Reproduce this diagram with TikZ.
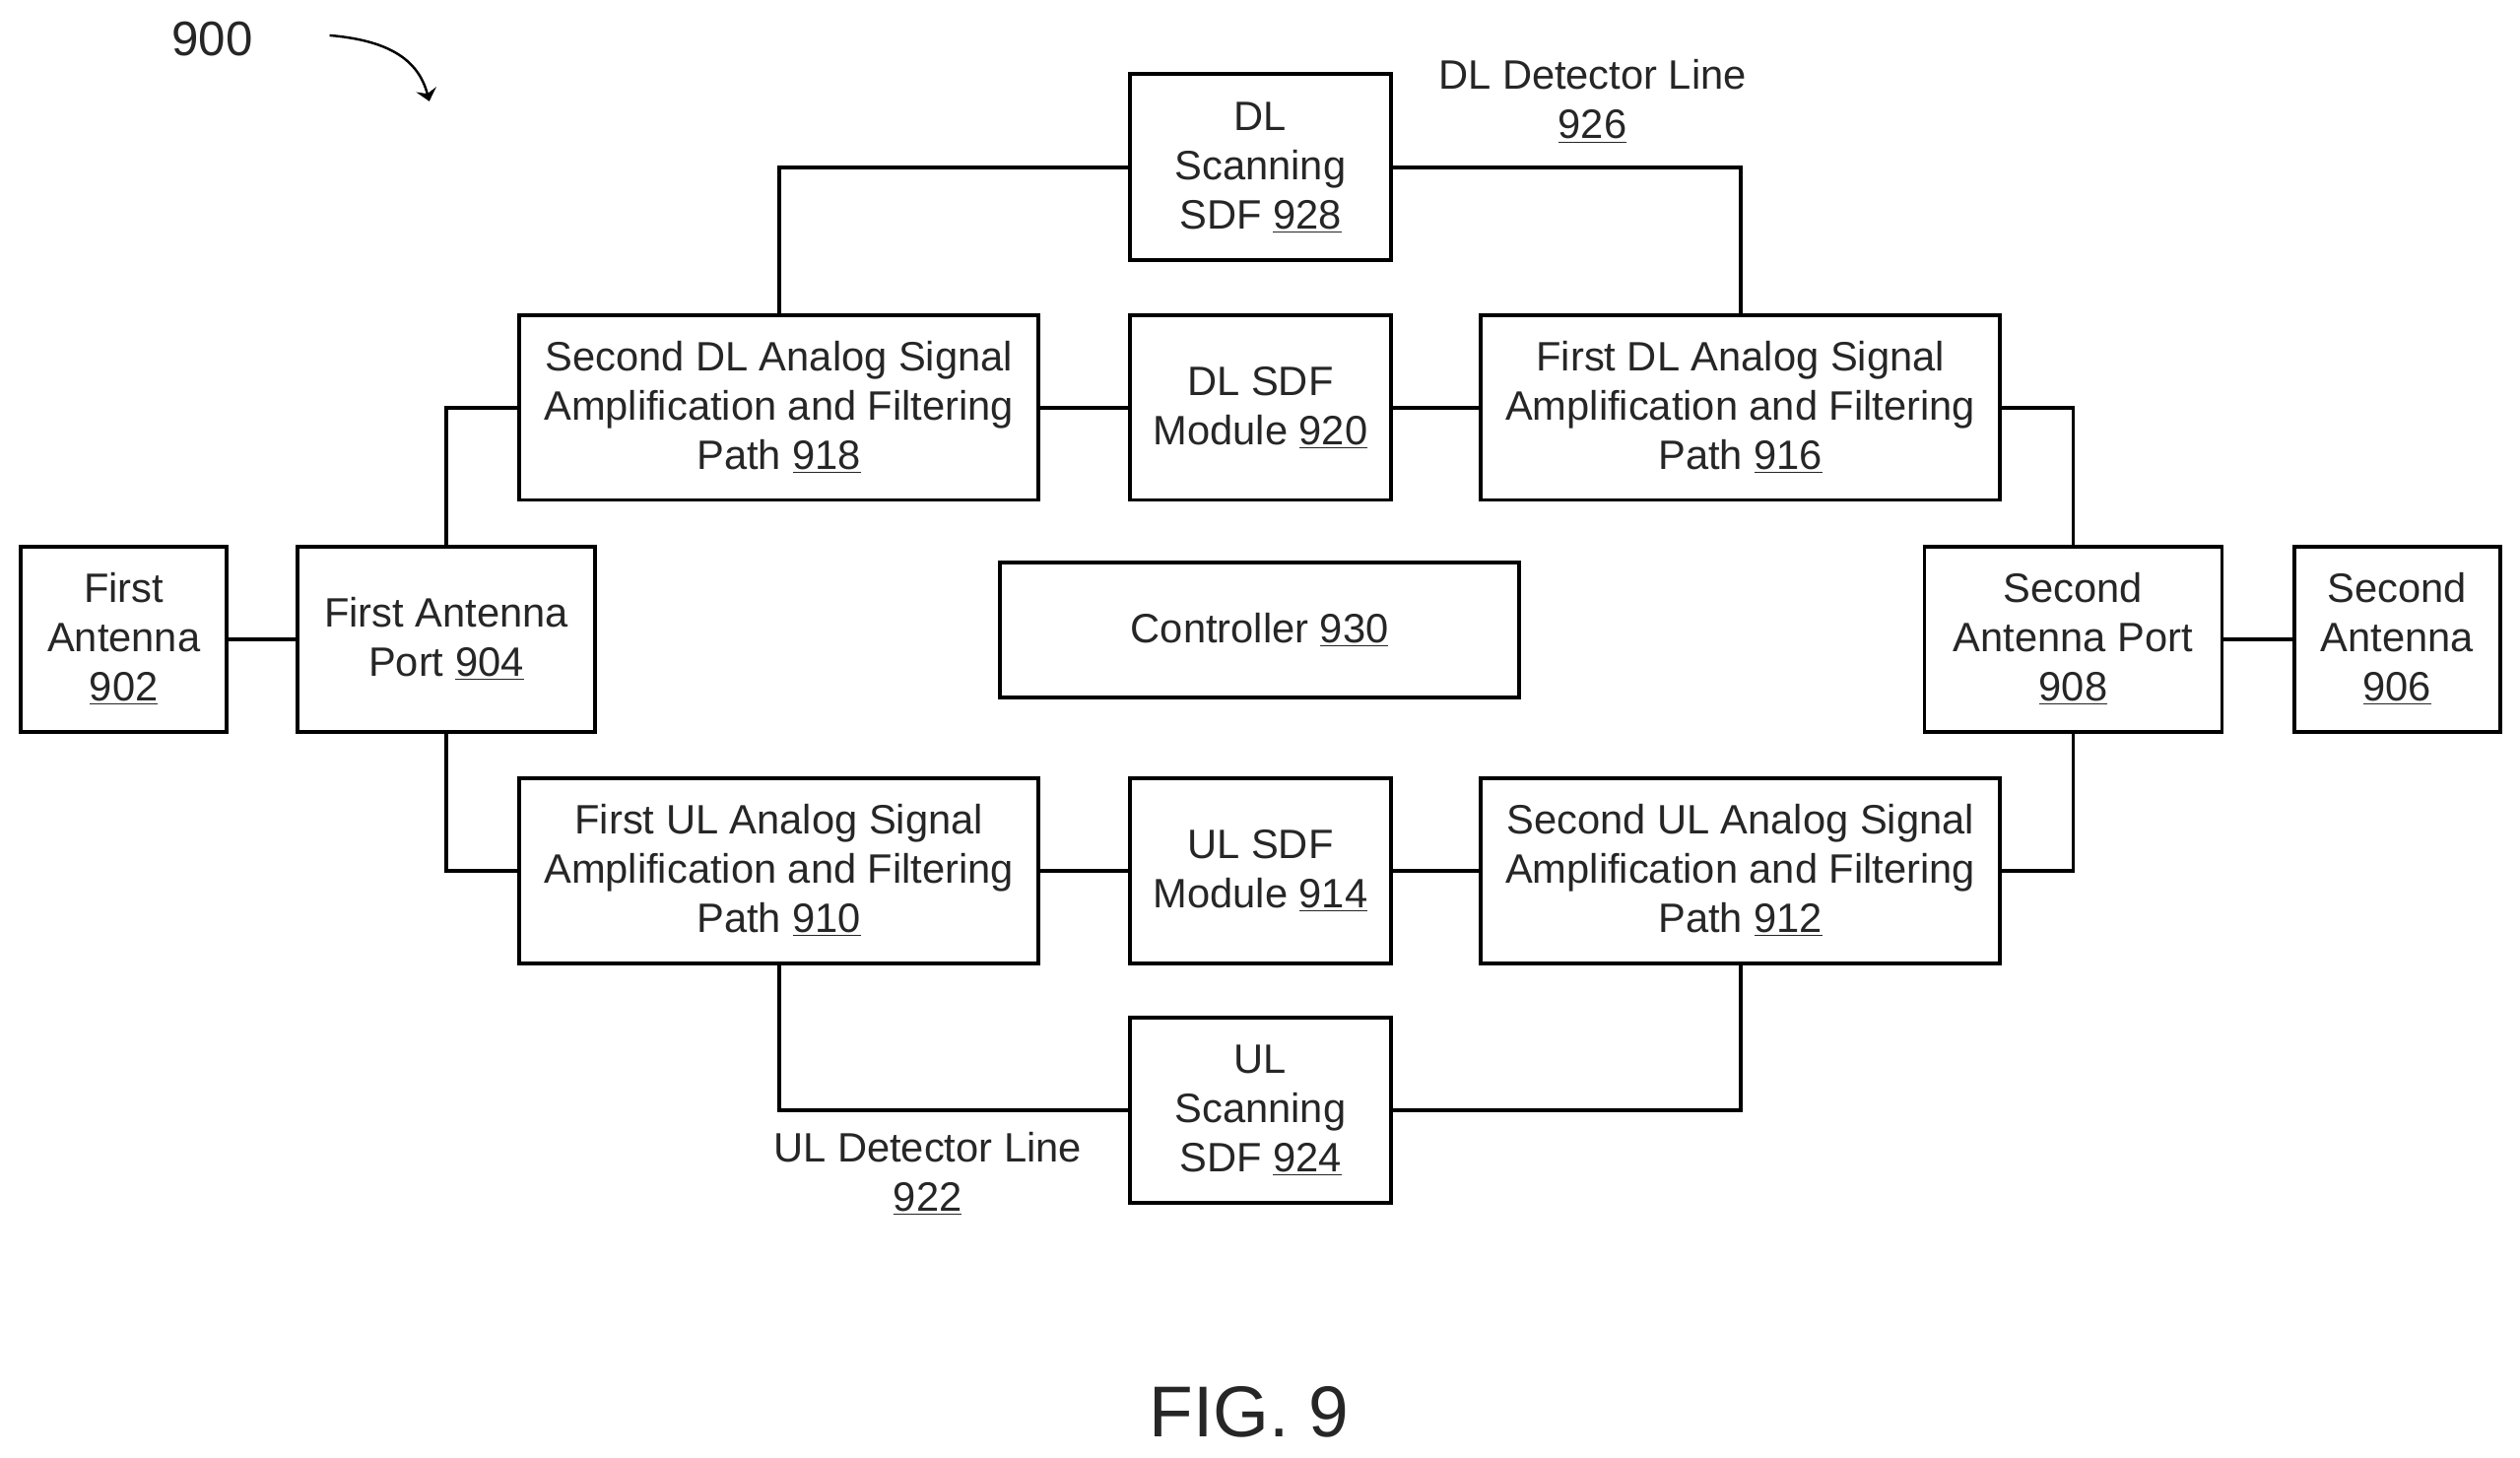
\documentclass[tikz,border=0pt]{standalone}
\usepackage{fontspec}
\setmainfont{Liberation Sans}
\usetikzlibrary{arrows.meta}
\newcommand{\unum}[1]{\underline{#1}}
\tikzset{
  x=0.03264cm, y=-0.03264cm,
  box/.style={draw=black, line width=2.2pt, fill=white, inner sep=0pt, align=center, font=\fontsize{23.7}{28.5}\selectfont, text=black!85},
  lbl/.style={inner sep=0pt, align=center, font=\fontsize{23.7}{28.5}\selectfont, text=black!85},
  wire/.style={draw=black, line width=2.2pt},
}
\newcommand{\bx}[6]{\node[box, minimum width=#4*0.03264cm-#3*0.03264cm, minimum height=#6*0.03264cm-#5*0.03264cm] (#1) at ({(#3+#4)/2},{(#5+#6)/2}) {#2};}
\begin{document}
\begin{tikzpicture}
\useasboundingbox (0,0) rectangle (1567.4,906.3);
\fill[white] (0,0) rectangle (1567.4,906.3);
\bx{fa}{First\\Antenna\\\unum{902}}{13}{141}{340}{455}
\bx{fap}{First Antenna\\Port \unum{904}}{185}{370}{340}{455}
\bx{sdl}{Second DL Analog Signal\\Amplification and Filtering\\Path \unum{918}}{323}{646}{196}{311}
\bx{dlsdf}{DL SDF\\Module \unum{920}}{703}{865}{196}{311}
\bx{fdl}{First DL Analog Signal\\Amplification and Filtering\\Path \unum{916}}{921}{1244}{196}{311}
\bx{dlscan}{DL\\Scanning\\SDF \unum{928}}{703}{865}{46}{162}
\bx{ctrl}{Controller \unum{930}}{622}{945}{350}{434}
\bx{sap}{Second\\Antenna Port\\\unum{908}}{1197}{1382}{340}{455}
\bx{sa}{Second\\Antenna\\\unum{906}}{1427}{1555}{340}{455}
\bx{ful}{First UL Analog Signal\\Amplification and Filtering\\Path \unum{910}}{323}{646}{484}{599}
\bx{ulsdf}{UL SDF\\Module \unum{914}}{703}{865}{484}{599}
\bx{sul}{Second UL Analog Signal\\Amplification and Filtering\\Path \unum{912}}{921}{1244}{484}{599}
\bx{ulscan}{UL\\Scanning\\SDF \unum{924}}{703}{865}{633}{748}
\node[lbl] (dlline) at (990.5,63) {DL Detector Line\\\unum{926}};
\node[lbl] (ulline) at (577,730) {UL Detector Line\\\unum{922}};
\node[inner sep=0pt, font=\fontsize{28}{32}\selectfont, text=black!85] (ref) at (132,24) {900};
\node[inner sep=0pt, font=\fontsize{41.6}{46}\selectfont, text=black!85] (fig) at (777,878) {FIG. 9};
\coordinate (as) at (205,22);
\coordinate (ae) at (267,63);
\draw[line width=1.4pt, -{Stealth[length=7pt,width=12pt,inset=2.5pt]}] (as) .. controls (240,25) and (260,36) .. (ae);
\draw[wire] (fa) -- (fap);
\draw[wire] (sap) -- (sa);
\draw[wire] (fap.north) |- (sdl.west);
\draw[wire] (fap.south) |- (ful.west);
\draw[wire] (sap.north) |- (fdl.east);
\draw[wire] (sap.south) |- (sul.east);
\draw[wire] (sdl) -- (dlsdf);
\draw[wire] (dlsdf) -- (fdl);
\draw[wire] (ful) -- (ulsdf);
\draw[wire] (ulsdf) -- (sul);
\draw[wire] (sdl.north) |- (dlscan.west);
\draw[wire] (fdl.north) |- (dlscan.east);
\draw[wire] (ful.south) |- (ulscan.west);
\draw[wire] (sul.south) |- (ulscan.east);
\end{tikzpicture}
\end{document}
